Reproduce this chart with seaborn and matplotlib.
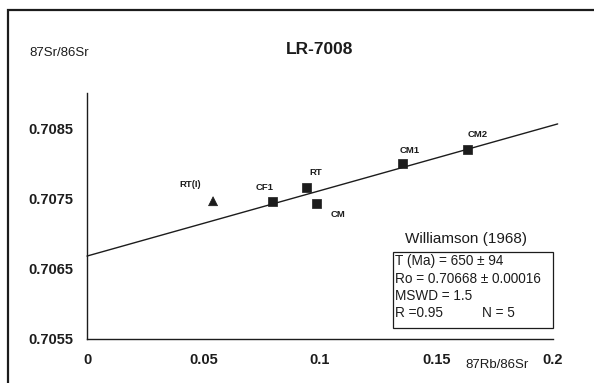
import matplotlib
matplotlib.use("Agg")
import matplotlib.pyplot as plt
import seaborn as sns
import pandas as pd
from matplotlib.patches import Rectangle

# ---- data ----
sample_names = ["RT(I)", "CF1", "RT", "CM", "CM1", "CM2"]
rb_sr = [0.0541, 0.0798, 0.0944, 0.0983, 0.1356, 0.1635]
sr_sr = [0.70746, 0.70746, 0.70766, 0.70743, 0.70800, 0.70819]
marker_kind = ["triangle", "square", "square", "square", "square", "square"]

isochron_x = [0.0, 0.202]
isochron_y = [0.70668, 0.70856]

x_ticks = [0, 0.05, 0.1, 0.15, 0.2]
x_tick_labels = ["0", "0.05", "0.1", "0.15", "0.2"]
y_ticks = [0.7055, 0.7065, 0.7075, 0.7085]
y_tick_labels = ["0.7055", "0.7065", "0.7075", "0.7085"]

title = "LR-7008"
y_label = "87Sr/86Sr"
x_label = "87Rb/86Sr"
box_title = "Williamson (1968)"
box_lines = ["T (Ma) = 650 \u00b1 94", "Ro = 0.70668 \u00b1 0.00016", "MSWD = 1.5", "R =0.95"]
box_n = "N = 5"

# label offsets in pixels (style)
label_offsets = [(-23, 17), (-8, 14), (9, 15), (22, -11), (7, 13), (10, 15)]

sns.set_style("white")
plt.rcParams["font.family"] = ["Liberation Sans", "DejaVu Sans"]
ink = "#1c1c1c"

W, H = 594, 383
fig = plt.figure(figsize=(W / 100, H / 100), dpi=100)
ax = fig.add_axes([87 / W, (H - 339) / H, 466 / W, 246 / H])

df = pd.DataFrame({"x": rb_sr, "y": sr_sr, "kind": marker_kind, "name": sample_names})
line_df = pd.DataFrame({"x": isochron_x, "y": isochron_y})

sns.lineplot(data=line_df, x="x", y="y", ax=ax, color=ink, lw=1.0, clip_on=False, legend=False)
sns.scatterplot(data=df, x="x", y="y", style="kind", markers={"square": "s", "triangle": "^"},
                color=ink, s=42, edgecolor=ink, linewidth=0.5, ax=ax, legend=False, zorder=3)

for nm, xv, yv, off in zip(sample_names, rb_sr, sr_sr, label_offsets):
    ax.annotate(nm, (xv, yv), xytext=off, textcoords="offset pixels",
                ha="center", va="center", fontsize=6.8, fontweight="bold", color=ink)

ax.set_xlim(0, 0.2)
ax.set_ylim(0.7055, 0.709)
ax.set_xticks(x_ticks)
ax.set_xticklabels(x_tick_labels)
ax.set_yticks(y_ticks)
ax.set_yticklabels(y_tick_labels)
ax.set_xlabel("")
ax.set_ylabel("")
for lab in ax.get_xticklabels() + ax.get_yticklabels():
    lab.set_fontweight("bold")
    lab.set_fontsize(10.5)
    lab.set_color(ink)
ax.tick_params(axis="both", direction="inout", length=5, width=0.8, color=ink)
ax.tick_params(axis="x", pad=7.5)
ax.tick_params(axis="y", pad=7)

for side in ["top", "right"]:
    ax.spines[side].set_visible(False)
for side in ["left", "bottom"]:
    ax.spines[side].set_color(ink)
    ax.spines[side].set_linewidth(1.0)

def fx(px):
    return px / W

def fy(py):
    return (H - py) / H

fig.text(fx(320), fy(49), title, ha="center", va="center", fontsize=12.5, fontweight="bold", color=ink)
fig.text(fx(59.5), fy(53), y_label, ha="center", va="center", fontsize=9.5, color=ink)
fig.text(fx(497), fy(365), x_label, ha="center", va="center", fontsize=9.5, color=ink)

# statistics box
fig.add_artist(Rectangle((fx(393), fy(328)), 160 / W, 76 / H, transform=fig.transFigure,
                         fill=True, facecolor="white", edgecolor=ink, lw=0.9, zorder=5))
fig.text(fx(466), fy(239), box_title, ha="center", va="center", fontsize=11, color=ink, zorder=6)
for txt, py in zip(box_lines, [261, 279, 296, 313]):
    fig.text(fx(395), fy(py), txt, ha="left", va="center", fontsize=9.8, color=ink, zorder=6)
fig.text(fx(482), fy(313), box_n, ha="left", va="center", fontsize=9.8, color=ink, zorder=6)

# outer frame (extends beyond right/bottom edges)
fig.add_artist(Rectangle((fx(8), -0.1), 1.2, fy(10) + 0.1, transform=fig.transFigure,
                         fill=False, edgecolor=ink, lw=1.6, zorder=1))

fig.savefig("out.png", dpi=100, facecolor="white")
